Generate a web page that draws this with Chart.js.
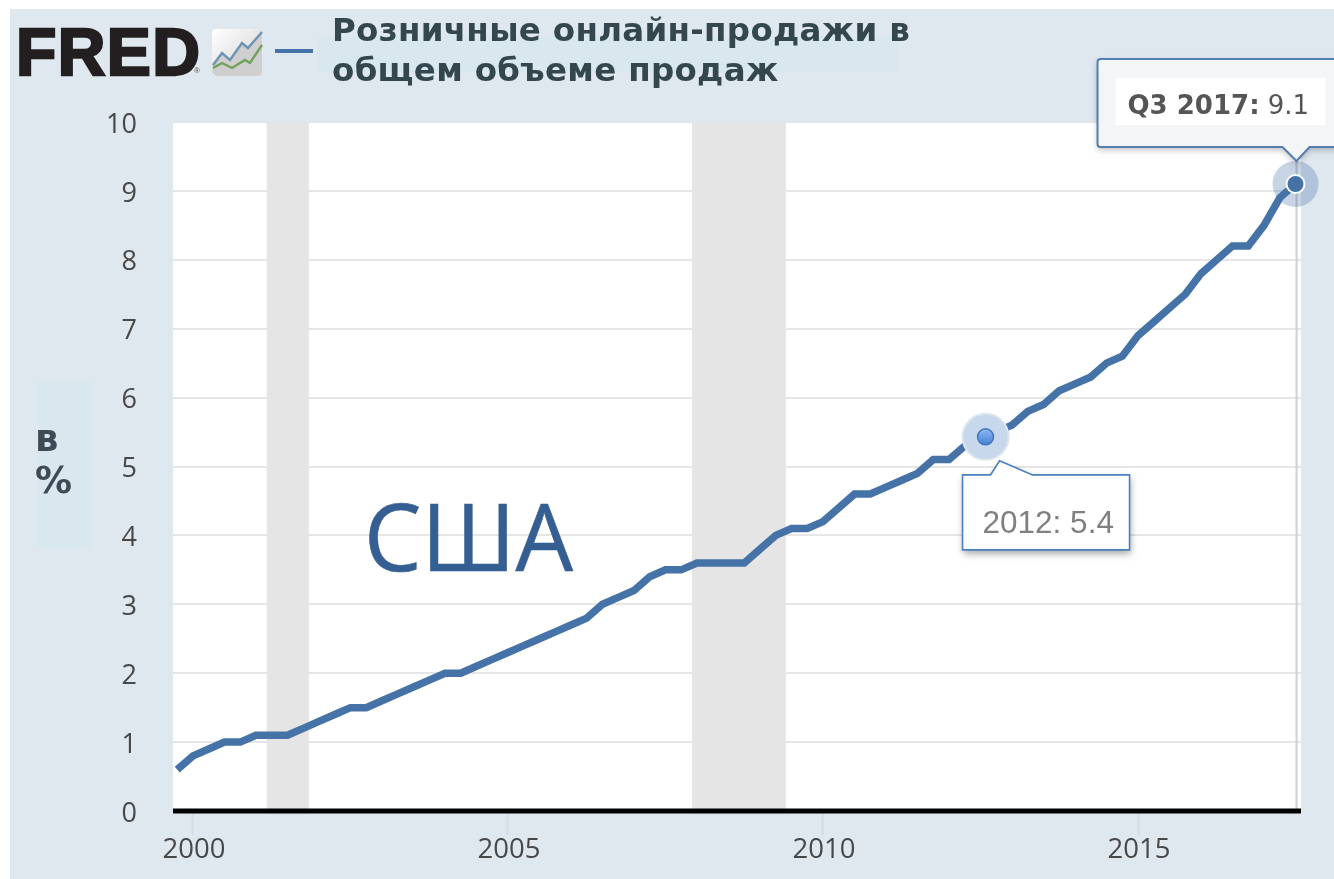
<!DOCTYPE html>
<html lang="ru"><head><meta charset="utf-8"><title>FRED</title>
<script src="https://cdn.jsdelivr.net/npm/chart.js@4"></script>
<style>
html,body{margin:0;padding:0;background:#fff;overflow:hidden}
#wrap{position:relative;width:1334px;height:879px;overflow:hidden;background:#fff}
#bg{position:absolute;left:10px;top:9px;width:1324px;height:870px;background:#dfe7ef}
canvas{position:absolute;left:0;top:0}
.t{position:absolute;white-space:nowrap}
#logo{left:16px;top:12px;font:bold 66px/80px "Liberation Sans";color:#231f20;-webkit-text-stroke:2.5px #231f20;letter-spacing:1.4px}
#reg{left:194px;top:66px;font:8px/10px "Liberation Sans";color:#555}
#tb{position:absolute;left:318px;top:36px;width:580px;height:36px;background:#d9e7ef}
#leg{position:absolute;left:275px;top:49px;width:38px;height:4px;background:#4572a7}
#title{left:332px;top:10px;font:bold 32.5px/40px "DejaVu Sans";color:#34474f;letter-spacing:.3px}
#yb{position:absolute;left:38px;top:380px;width:53px;height:169px;background:#d9e7ef}
#ylab{left:35px;top:418px;font:bold 37px/42px "DejaVu Sans";color:#3e4a56}
#usa{left:364px;top:470px;font:94px/130px "Open Sans";color:#355f92;-webkit-text-stroke:.6px #355f92;transform:scaleX(.97);transform-origin:left top}
svg{position:absolute;left:212px;top:28px}
</style></head><body>
<div id="wrap">
<div id="bg"></div>
<div id="tb"></div><div id="yb"></div>
<canvas id="c" width="1334" height="879"></canvas>
<div class="t" id="logo">FRED</div><div class="t" id="reg">®</div>
<svg width="51" height="49" viewBox="0 0 51 49">
<defs><linearGradient id="g" x1="0" y1="0" x2="1" y2="1"><stop offset="0" stop-color="#fff"/><stop offset="1" stop-color="#d0d0d0"/></linearGradient></defs>
<rect y="1" width="50" height="47" rx="4" fill="url(#g)"/>
<polygon points="1,37 10,25 18,32 30,15 36,20 50,4 50,44 46,48 4,48 0,44" fill="#cfcfcf"/>
<polyline points="1,37 10,25 18,32 30,15 36,20 50,4" fill="none" stroke="#6d94b3" stroke-width="2.4"/>
<polyline points="1,40 10,35 20,40 33,32 38,35 50,17" fill="none" stroke="#71a15a" stroke-width="2.4"/>
</svg>
<div id="leg"></div>
<div class="t" id="title">Розничные онлайн-продажи в<br>общем объеме продаж</div>
<div class="t" id="ylab">в<br>%</div>
<div class="t" id="usa">США</div>
</div>
<script>
// Quarterly observations (decimal year of the quarter, percent)
const quarters = [1999.75,
 2000,2000.25,2000.5,2000.75, 2001,2001.25,2001.5,2001.75, 2002,2002.25,2002.5,2002.75,
 2003,2003.25,2003.5,2003.75, 2004,2004.25,2004.5,2004.75, 2005,2005.25,2005.5,2005.75,
 2006,2006.25,2006.5,2006.75, 2007,2007.25,2007.5,2007.75, 2008,2008.25,2008.5,2008.75,
 2009,2009.25,2009.5,2009.75, 2010,2010.25,2010.5,2010.75, 2011,2011.25,2011.5,2011.75,
 2012,2012.25,2012.5,2012.75, 2013,2013.25,2013.5,2013.75, 2014,2014.25,2014.5,2014.75,
 2015,2015.25,2015.5,2015.75, 2016,2016.25,2016.5,2016.75, 2017,2017.25,2017.5];
const ecommerceShare = [0.6,
 0.8,0.9,1.0,1.0, 1.1,1.1,1.1,1.2, 1.3,1.4,1.5,1.5,
 1.6,1.7,1.8,1.9, 2.0,2.0,2.1,2.2, 2.3,2.4,2.5,2.6,
 2.7,2.8,3.0,3.1, 3.2,3.4,3.5,3.5, 3.6,3.6,3.6,3.6,
 3.8,4.0,4.1,4.1, 4.2,4.4,4.6,4.6, 4.7,4.8,4.9,5.1,
 5.1,5.3,5.4,5.5, 5.6,5.8,5.9,6.1, 6.2,6.3,6.5,6.6,
 6.9,7.1,7.3,7.5, 7.8,8.0,8.2,8.2, 8.5,8.9,9.1];
const recessionStart = [2001.17, 2007.92];
const recessionEnd   = [2001.84, 2009.41];
const xTickValues = [2000, 2005, 2010, 2015];
const yTickValues = [0,1,2,3,4,5,6,7,8,9,10];
const markedPoint = {x: 2012.58, y: 5.43};
const lastPoint   = {x: 2017.5, y: 9.1};
const markedLabel = "2012: 5.4";
const lastLabelBold = "Q3 2017:";
const lastLabelValue = " 9.1";

const BLUE = "#4572a7";

const frame = {
  id: "frame",
  beforeDraw(c) {
    const a = c.chartArea, g = c.ctx;
    g.save(); g.fillStyle = "#fff";
    g.fillRect(a.left, a.top, a.right - a.left, a.bottom - a.top);
    g.restore();
  },
  beforeDatasetsDraw(c) {
    const a = c.chartArea, g = c.ctx, x = c.scales.x;
    g.save();
    g.fillStyle = "#e5e5e5";
    recessionStart.forEach((s, i) => {
      const l = x.getPixelForValue(s), r = x.getPixelForValue(recessionEnd[i]);
      g.fillRect(l, a.top, r - l, a.bottom - a.top);
    });
    const gx = x.getPixelForValue(lastPoint.x);
    g.strokeStyle = "#cfcfd4"; g.lineWidth = 2;
    g.beginPath(); g.moveTo(gx + 1, 124); g.lineTo(gx + 1, a.bottom); g.stroke();
    g.fillStyle = "#000";
    g.fillRect(a.left, c.scales.y.getPixelForValue(yTickValues[0]) - 2.5, a.right - a.left, 5);
    g.restore();
  },
  afterDatasetsDraw(c) {
    const g = c.ctx, x = c.scales.x, y = c.scales.y;
    // callout for the latest quarter
    const lx = x.getPixelForValue(lastPoint.x), ly = y.getPixelForValue(lastPoint.y);
    g.save();
    const tip = ly - 23, top = tip - 102, bot = tip - 14, left = lx - 198, right = lx + 60;
    g.shadowColor = "rgba(0,0,0,.25)"; g.shadowBlur = 6; g.shadowOffsetY = 3;
    g.beginPath();
    g.moveTo(left + 3, top); g.lineTo(right, top); g.lineTo(right, bot);
    g.lineTo(lx + 14, bot); g.lineTo(lx + 1, tip); g.lineTo(lx - 13, bot);
    g.lineTo(left + 3, bot); g.quadraticCurveTo(left, bot, left, bot - 3);
    g.lineTo(left, top + 3); g.quadraticCurveTo(left, top, left + 3, top);
    g.closePath();
    g.fillStyle = "#f4f5f7"; g.fill();
    g.shadowColor = "transparent";
    g.strokeStyle = "#527fb0"; g.lineWidth = 2; g.stroke();
    g.fillStyle = "#fff"; g.fillRect(lx - 180, top + 19, 210, 47);
    g.textBaseline = "alphabetic"; g.textAlign = "left";
    g.font = 'bold 26px "DejaVu Sans"'; g.fillStyle = "#555";
    const tx = lx - 168, ty = top + 55;
    g.fillText(lastLabelBold, tx, ty);
    const w = g.measureText(lastLabelBold).width;
    g.font = '26px "DejaVu Sans"';
    g.fillText(lastLabelValue, tx + w, ty);
    g.restore();
    // callout for the marked point
    const mx = x.getPixelForValue(markedPoint.x), my = y.getPixelForValue(markedPoint.y);
    g.save();
    const t2 = my + 38, b2 = my + 113, l2 = mx - 23, r2 = mx + 144;
    g.shadowColor = "rgba(0,0,0,.35)"; g.shadowBlur = 7; g.shadowOffsetX = 1; g.shadowOffsetY = 4;
    g.beginPath();
    g.moveTo(l2, t2); g.lineTo(mx + 5, t2); g.lineTo(mx + 14, my + 24); g.lineTo(mx + 47, t2);
    g.lineTo(r2, t2); g.lineTo(r2, b2); g.lineTo(l2, b2); g.closePath();
    g.fillStyle = "#fff"; g.fill();
    g.shadowColor = "transparent";
    g.strokeStyle = "#4a7fc0"; g.lineWidth = 1.6; g.stroke();
    g.font = '31.5px "Liberation Sans"'; g.fillStyle = "#808080";
    g.textBaseline = "alphabetic"; g.textAlign = "left";
    g.fillText(markedLabel, l2 + 20, b2 - 17);
    g.restore();
  }
};

function dotFill(ctx) {
  const s = ctx.chart.scales;
  if (!s.y || s.y.top === undefined) return "#5f93e0";
  const py = s.y.getPixelForValue(markedPoint.y);
  const gr = ctx.chart.ctx.createLinearGradient(0, py - 8, 0, py + 8);
  gr.addColorStop(0, "#8ab8f2");
  gr.addColorStop(1, "#4a80d6");
  return gr;
}

new Chart(document.getElementById("c"), {
  type: "line",
  data: {
    datasets: [
      {data:[markedPoint], pointRadius:8, pointBackgroundColor:dotFill, pointBorderColor:"#3f74c0", pointBorderWidth:1.5, showLine:false, clip:false},
      {data:[markedPoint], pointRadius:23, pointBackgroundColor:"#c8d8ec", pointBorderColor:"#dde6f0", pointBorderWidth:2, showLine:false, clip:false},
      {data:[lastPoint], pointRadius:9, pointBackgroundColor:BLUE, pointBorderColor:"#fff", pointBorderWidth:2, showLine:false, clip:false},
      {data:quarters.map((q,i)=>({x:q,y:ecommerceShare[i]})), borderColor:BLUE, borderWidth:7.5, pointRadius:0, tension:0, borderJoinStyle:"miter", borderCapStyle:"butt", fill:false},
      {data:[lastPoint], pointRadius:23, pointBackgroundColor:"rgba(69,114,167,.3)", pointBorderWidth:0, showLine:false, clip:false}
    ]
  },
  options: {
    responsive:false, animation:false, devicePixelRatio:1,
    layout:{padding:{top:122,right:33,left:0,bottom:0}},
    plugins:{legend:{display:false},tooltip:{enabled:false},title:{display:false}},
    events:[],
    scales:{
      x:{type:"linear",min:1999.683,max:2017.587,
        afterFit:s=>{s.height=68},
        afterBuildTicks:s=>{s.ticks=xTickValues.map(v=>({value:v}))},
        grid:{drawOnChartArea:false,drawTicks:true,tickLength:24,tickColor:"#d2dce8",tickWidth:2},
        border:{display:false},
        ticks:{callback:v=>String(v),color:"#484848",font:{family:"Open Sans",size:27.5},padding:-1,labelOffset:1,maxRotation:0,autoSkip:false}},
      y:{min:0,max:10,
        afterFit:s=>{s.width=173},
        afterBuildTicks:s=>{s.ticks=yTickValues.map(v=>({value:v}))},
        grid:{color:"#e6e6e6",lineWidth:2,drawTicks:false},
        border:{display:false},
        ticks:{color:"#484848",font:{family:"Open Sans",size:27},padding:36,labelOffset:3,callback:v=>String(v)}}
    }
  },
  plugins:[frame]
});
</script>
</body></html>
